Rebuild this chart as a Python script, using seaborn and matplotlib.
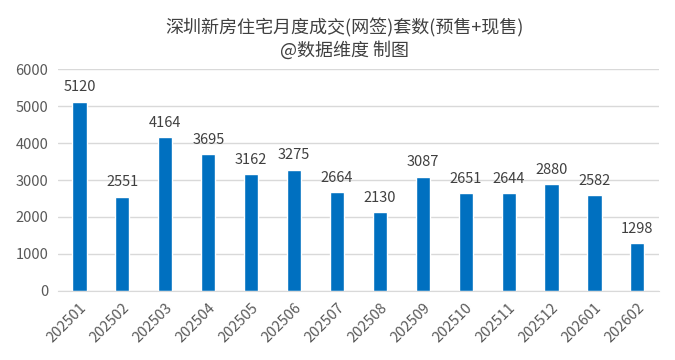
import seaborn as sns
import matplotlib.pyplot as plt

# monthly data
months = ['202501', '202502', '202503', '202504', '202505', '202506', '202507',
          '202508', '202509', '202510', '202511', '202512', '202601', '202602']
units = [5120, 2551, 4164, 3695, 3162, 3275, 2664, 2130, 3087, 2651, 2644, 2880, 2582, 1298]

sns.set_style('white')
plt.rcParams['font.family'] = ['Noto Sans CJK SC', 'DejaVu Sans']

fig = plt.figure(figsize=(6.75, 3.6), dpi=100)
ax = fig.add_axes([0.086, 0.192, 0.89, 0.616])

sns.barplot(x=months, y=units, color='#0070C0', width=0.33, saturation=1, ax=ax)

for i, v in enumerate(units):
    ax.text(i, v + 200, str(v), ha='center', va='bottom', fontsize=10.5, color='#404040')

ax.set_ylim(0, 6000)
ax.set_yticks(range(0, 6001, 1000))
ax.yaxis.grid(True, color='#D9D9D9', lw=1)
ax.set_axisbelow(True)
for s in ['top', 'right', 'left']:
    ax.spines[s].set_visible(False)
ax.spines['bottom'].set_color('#D9D9D9')
ax.tick_params(axis='both', length=0, labelsize=10.5, colors='#595959', pad=7)
plt.setp(ax.get_xticklabels(), rotation=45, ha='right', rotation_mode='anchor')

fig.text(0.51, 0.922, '深圳新房住宅月度成交(网签)套数(预售+现售)', ha='center', va='center',
         fontsize=13, color='#404040')
fig.text(0.51, 0.86, '@数据维度 制图', ha='center', va='center', fontsize=13, color='#404040')

plt.savefig('out.png', dpi=100)
